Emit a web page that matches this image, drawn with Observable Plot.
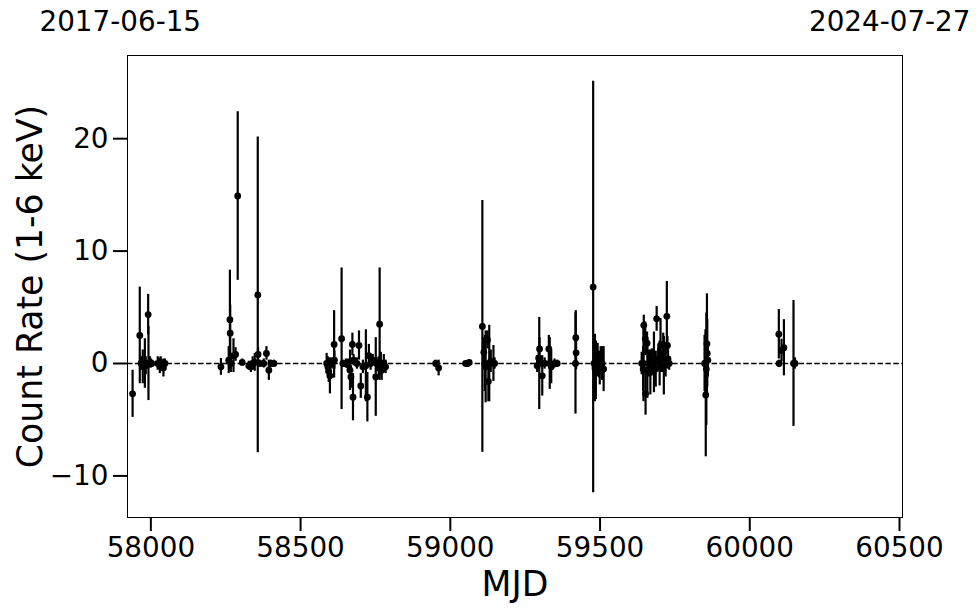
<!DOCTYPE html>
<html>
<head>
<meta charset="utf-8">
<script src="https://cdn.jsdelivr.net/npm/d3@7"></script>
<script src="https://cdn.jsdelivr.net/npm/@observablehq/plot@0.6"></script>
<style>
  html, body { margin: 0; padding: 0; background: #fff; }
  #chart svg { font-family: "DejaVu Sans", sans-serif; background: #fff; display: block; }
</style>
</head>
<body>
<div id="chart"></div>
<script>
// Observation dates (MJD), count rates and 1-sigma errors
const mjd = [
  57939, 57963, 57967, 57973, 57980, 57983, 57991, 57992, 57997, 58000, 58003, 58023, 58030, 58033, 58042, 58047,
  58234, 58260, 58264, 58265, 58267, 58276, 58283, 58290, 58305, 58327, 58334, 58340, 58347, 58357, 58358, 58364, 58377, 58386, 58394, 58401, 58411,
  58587, 58591, 58594, 58598, 58604, 58612, 58613, 58637, 58641, 58651, 58658, 58665, 58668, 58673, 58675, 58677, 58688, 58695, 58701, 58708, 58718, 58723, 58728, 58734, 58741, 58751, 58754, 58761, 58764, 58768, 58771, 58778, 58784,
  58951, 58961, 59051, 59058, 59063,
  59107, 59112, 59115, 59118, 59124, 59127, 59130, 59135, 59144, 59148,
  59290, 59295, 59297, 59298, 59307, 59315, 59329, 59332, 59337, 59348, 59357,
  59418, 59419, 59420,
  59477, 59480, 59483, 59486, 59492, 59497, 59499, 59502, 59507, 59512,
  59639, 59644, 59645, 59646, 59651, 59652, 59657, 59658, 59663, 59668, 59673, 59680, 59686, 59689, 59694, 59699, 59702, 59707, 59711, 59713, 59719, 59723, 59725, 59727, 59731,
  59849, 59852, 59853, 59855, 59857, 59858, 59860,
  60097, 60098, 60106, 60114, 60146, 60151
];
const rate = [
  -2.7, 2.5, 0.0, -0.3, 0.0, -0.2, 4.35, 0.0, 0.1, 0.0, 0.0, 0.0, -0.2, 0.1, -0.4, 0.0,
  -0.3, 0.3, 3.9, 2.7, 0.0, 0.7, 0.8, 14.9, 0.1, -0.2, -0.3, 0.0, 0.1, 6.1, 0.8, 0.0, 0.0, 0.9, -0.6, 0.0, 0.0,
  0.0, -0.3, -0.7, -1.1, 0.0, 1.7, 0.3, 2.2, 0.0, 0.0, -0.1, -0.6, -1.2, 1.7, -3.0, 0.3, 0.0, 1.6, -2.0, -0.3, -0.2, -3.0, 0.7, 0.0, 0.3, -1.2, 0.0, -0.4, 3.5, 0.0, -0.6, 0.0, -0.3,
  0.0, -0.4, 0.0, 0.0, 0.1,
  3.3, 1.0, 0.0, -0.3, 2.1, -1.6, 0.0, 0.2, 0.0, 0.0,
  -0.2, 0.5, 0.0, 1.3, -1.1, 0.0, 1.3, 0.0, -0.3, 0.0, 0.0,
  0.0, 2.3, 0.95,
  6.8, 0.0, -0.4, -0.6, 0.3, -0.1, -0.6, 0.5, 0.0, -0.5,
  0.0, -0.5, 0.0, 3.4, 2.2, -2.7, 1.8, -0.6, 0.0, -0.8, 0.3, 0.1, -0.5, 3.97, 0.4, 0.0, 1.6, 0.2, 1.7, -0.2, 0.3, 4.2, 1.6, 0.4, 0.0,
  0.0, 0.0, -2.8, -0.5, 1.75, 0.9, 0.3,
  2.6, 0.0, 1.16, 1.4, 0.0, 0.0
];
const err = [
  2.1, 4.3, 0.6, 1.5, 2.2, 0.8, 1.8, 3.3, 0.5, 0.4, 0.3, 0.6, 0.7, 0.5, 0.8, 0.4,
  0.75, 1.2, 4.4, 2.5, 0.8, 1.5, 0.6, 7.5, 0.3, 0.4, 0.5, 0.6, 0.8, 14.05, 0.6, 0.3, 0.4, 0.6, 0.9, 0.3, 0.3,
  0.9, 0.9, 1.0, 1.6, 0.5, 3.0, 0.8, 6.3, 0.3, 0.4, 0.5, 1.8, 1.0, 1.0, 2.1, 0.5, 0.5, 1.3, 1.1, 0.6, 3.2, 2.2, 1.0, 0.6, 0.5, 3.5, 0.5, 1.0, 5.0, 1.0, 0.9, 0.8, 0.6,
  0.3, 0.7, 0.15, 0.15, 0.2,
  11.2, 1.3, 2.5, 3.2, 0.8, 1.8, 3.4, 1.0, 1.6, 0.5,
  0.6, 1.0, 4.1, 1.0, 1.8, 0.5, 1.2, 2.3, 1.5, 0.4, 0.3,
  4.5, 2.4, 1.5,
  18.3, 2.0, 3.0, 2.6, 1.5, 1.2, 1.3, 1.0, 1.5, 2.0,
  1.0, 2.0, 3.4, 0.9, 1.5, 1.9, 1.0, 2.5, 1.2, 2.0, 1.0, 2.7, 1.6, 1.1, 1.0, 2.0, 2.4, 1.0, 1.0, 2.6, 1.5, 3.1, 0.8, 0.9, 0.6,
  2.5, 3.0, 5.5, 5.0, 4.45, 3.0, 1.5,
  2.2, 0.3, 1.0, 2.5, 5.6, 0.5
];

const xTicks = [58000, 58500, 59000, 59500, 60000, 60500];
const yTicks = [-10, 0, 10, 20];
const startLabel = "2017-06-15";
const endLabel = "2024-07-27";
const xLabel = "MJD";
const yLabel = "Count Rate (1-6 keV)";

const data = mjd.map((m, i) => ({mjd: m, rate: rate[i], lo: rate[i] - err[i], hi: rate[i] + err[i]}));

const fmtY = d => d < 0 ? "\u2212" + Math.abs(d) : String(d);

const chart = Plot.plot({
  width: 980,
  height: 613,
  marginLeft: 127,
  marginRight: 78,
  marginTop: 55,
  marginBottom: 96,
  style: {fontFamily: "DejaVu Sans, sans-serif", color: "black", background: "white"},
  x: {domain: [57922, 60510]},
  y: {domain: [-13.7, 27.4]},
  marks: [
    Plot.ruleY([0], {stroke: "black", strokeWidth: 1.5, strokeDasharray: "5.5,2.4"}),
    Plot.ruleX(data, {x: "mjd", y1: "lo", y2: "hi", stroke: "black", strokeWidth: 2.2}),
    Plot.dot(data, {x: "mjd", y: "rate", r: 3.4, fill: "black", stroke: "none"}),
    Plot.frame({stroke: "black", strokeWidth: 1}),
    Plot.axisX(xTicks, {tickSize: 14, tickPadding: 6, strokeWidth: 2, fontSize: 27.8, tickFormat: d => String(d), label: null}),
    Plot.axisY(yTicks, {tickSize: 14, tickPadding: 5, strokeWidth: 2, fontSize: 27.8, tickFormat: fmtY, label: null}),
    Plot.text([xLabel], {frameAnchor: "bottom", lineAnchor: "bottom", dy: 78, fontSize: 34.7, fill: "black"}),
    Plot.text([yLabel], {frameAnchor: "left", rotate: -90, textAnchor: "middle", lineAnchor: "bottom", dx: -86, fontSize: 34.7, fill: "black"}),
    Plot.text([startLabel], {frameAnchor: "top-left", textAnchor: "start", lineAnchor: "bottom", dx: -88, dy: -25, fontSize: 27.8, fill: "black"}),
    Plot.text([endLabel], {frameAnchor: "top-right", textAnchor: "end", lineAnchor: "bottom", dx: 68, dy: -25, fontSize: 27.8, fill: "black"})
  ]
});
document.getElementById("chart").appendChild(chart);
</script>
</body>
</html>
